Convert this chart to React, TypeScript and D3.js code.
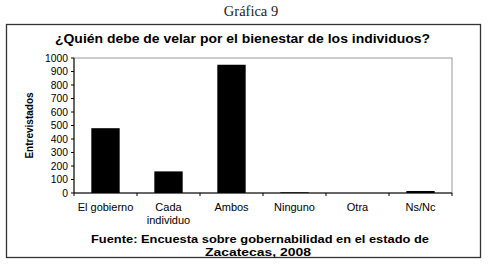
import React from "react";
import * as d3 from "d3";

const categories = ["El gobierno", "Cada individuo", "Ambos", "Ninguno", "Otra", "Ns/Nc"];
const categoryLines = [["El gobierno"], ["Cada", "individuo"], ["Ambos"], ["Ninguno"], ["Otra"], ["Ns/Nc"]];
const values = [480, 160, 950, 5, 0, 15];
const yTicks = [0, 100, 200, 300, 400, 500, 600, 700, 800, 900, 1000];

const W = 488, H = 273;
const plot = { left: 74, right: 452, top: 58, bottom: 193 };

export default function App() {
  const x = d3.scaleBand<string>().domain(categories).range([plot.left, plot.right]).paddingInner(0.55).paddingOuter(0.275);
  const xc = d3.scaleBand<string>().domain(categories).range([plot.left, plot.right]);
  const y = d3.scaleLinear().domain([0, 1000]).range([plot.bottom, plot.top]);
  const font = "'Liberation Sans', Arial, sans-serif";
  return (
    <svg width={W} height={H} style={{ position: "absolute", left: 0, top: 0, background: "#fff" }}>
      <text x={251} y={16} textAnchor="middle" fontFamily="'Liberation Serif', 'DejaVu Serif', serif" fontSize={14.5} fill="#222">Gráfica 9</text>
      <rect x={6.5} y={24.5} width={474} height={233} fill="none" stroke="#333" strokeWidth={1.3} />
      <text x={55} y={43} textLength={375} lengthAdjust="spacingAndGlyphs" fontFamily={font} fontWeight="bold" fontSize={12.5} fill="#000">¿Quién debe de velar por el bienestar de los individuos?</text>
      <rect x={plot.left} y={plot.top} width={plot.right - plot.left} height={plot.bottom - plot.top} fill="none" stroke="#999" strokeWidth={1} />
      {yTicks.map(t => (
        <g key={t}>
          <line x1={plot.left - 3} x2={plot.left} y1={y(t)} y2={y(t)} stroke="#000" />
          <text x={plot.left - 6} y={y(t) + 3.5} textAnchor="end" fontFamily={font} fontSize={10.3} fill="#000">{t}</text>
        </g>
      ))}
      <line x1={plot.left} x2={plot.left} y1={plot.top} y2={plot.bottom} stroke="#000" />
      <line x1={plot.left} x2={plot.right} y1={plot.bottom} y2={plot.bottom} stroke="#000" />
      {categories.map((c, i) => (
        <g key={c}>
          <line x1={(xc(c) as number)} x2={(xc(c) as number)} y1={plot.bottom} y2={plot.bottom + 3} stroke="#000" />
          {i === categories.length - 1 && <line x1={plot.right} x2={plot.right} y1={plot.bottom} y2={plot.bottom + 3} stroke="#000" />}
          <rect x={x(c)} y={y(values[i])} width={x.bandwidth()} height={plot.bottom - y(values[i])} fill="#000" />
          {categoryLines[i].map((l, j) => (
            <text key={j} x={(xc(c) as number) + xc.bandwidth() / 2} y={211 + j * 13} textAnchor="middle" fontFamily={font} fontSize={11} fill="#000">{l}</text>
          ))}
        </g>
      ))}
      <text transform={`translate(33,${(plot.top + plot.bottom) / 2}) rotate(-90)`} textAnchor="middle" fontFamily={font} fontWeight="bold" fontSize={10} fill="#000">Entrevistados</text>
      <text x={91} y={243} textLength={338} lengthAdjust="spacingAndGlyphs" fontFamily={font} fontWeight="bold" fontSize={11} fill="#000">Fuente: Encuesta sobre gobernabilidad en el estado de</text>
      <text x={205} y={256} textLength={106} lengthAdjust="spacingAndGlyphs" fontFamily={font} fontWeight="bold" fontSize={11} fill="#000">Zacatecas, 2008</text>
    </svg>
  );
}
